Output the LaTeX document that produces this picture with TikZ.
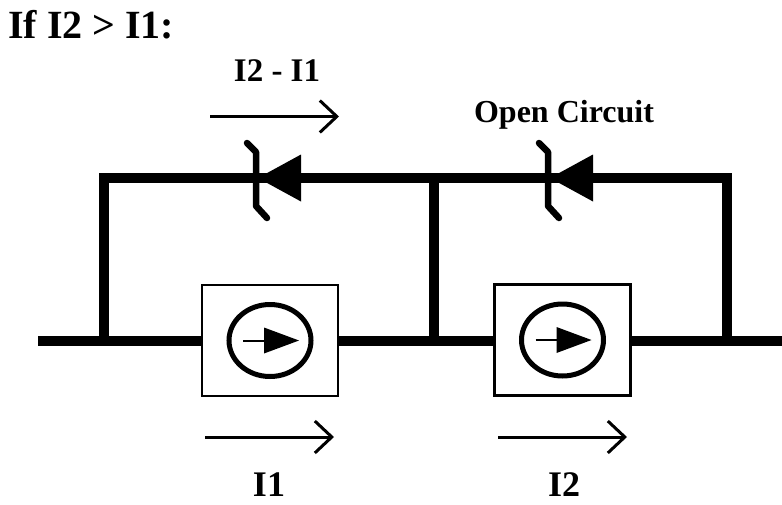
\documentclass[tikz,border=0pt]{standalone}
\usepackage{fontspec}
\setmainfont{Liberation Serif}
\usetikzlibrary{arrows.meta}
\tikzset{
  wire/.style={line width=10pt, line join=miter, line cap=butt},
  srcbox/.style={draw=black, fill=white, line width=2.5pt, minimum width=136pt, minimum height=111pt, inner sep=0pt},
  flow/.style={line width=3pt, -{Straight Barb[length=17pt,width=32pt,line width=3pt]}},
  lbl/.style={font=\bfseries, inner sep=0pt},
  pics/zener/.style={code={
    \fill (0,0) -- (43,-23.5) -- (43,23.5) -- cycle;
    \draw[line width=6.5pt, line cap=round, line join=round]
      (-11,-35) -- (-2,-26) -- (-2,28) -- (9,40);
  }},
  pics/isrc/.style={code={
    \draw[line width=5pt] (0,0) ellipse [x radius=41, y radius=36];
    \draw[line width=2pt] (-27,0) -- (-6,0);
    \fill (-6,-13) -- (29,0) -- (-6,13) -- cycle;
  }}
}
\begin{document}
\begin{tikzpicture}[x=1pt,y=-1pt]
\useasboundingbox (0,0) rectangle (782,504);

% junctions and wire ends
\coordinate (w0) at (38,341);
\coordinate (w1) at (782,341);
\coordinate (ja) at (104,341);
\coordinate (ta) at (104,178);
\coordinate (jb) at (434,341);
\coordinate (tb) at (434,178);
\coordinate (jc) at (727,341);
\coordinate (tc) at (727,178);

% wires
\draw[wire] (w0) -- (w1);
\draw[wire] (ja) -- (ta) -- (tb) -- (jb);
\draw[wire] (tb) -- (tc) -- (jc);

% zener diodes
\coordinate (d1) at (258,178);
\coordinate (d2) at (550,178);
\pic at (d1) {zener};
\pic at (d2) {zener};

% current sources
\node[srcbox] (s1) at (270,340.5) {};
\node[srcbox] (s2) at (562.5,340) {};
\pic at (s1.center) {isrc};
\pic at (s2.center) {isrc};

% current arrows
\coordinate (a0s) at (210,116.5);
\coordinate (a0e) at (339,116.5);
\coordinate (a1s) at (205,437);
\coordinate (a1e) at (334,437);
\coordinate (a2s) at (498,437);
\coordinate (a2e) at (627,437);
\draw[flow] (a0s) -- (a0e);
\draw[flow] (a1s) -- (a1e);
\draw[flow] (a2s) -- (a2e);

% labels
\node[lbl, anchor=base west, font=\bfseries\fontsize{40}{44}\selectfont] (title) at (8,38.3) {If I2 > I1:};
\node[lbl, anchor=base, font=\bfseries\fontsize{33}{36}\selectfont] (ldiff) at (277,81.7) {I2 - I1};
\node[lbl, anchor=base, font=\bfseries\fontsize{32}{36}\selectfont] (lopen) at (564,122) {Open Circuit};
\node[lbl, anchor=base, font=\bfseries\fontsize{36}{40}\selectfont] (li1) at (269,496) {I1};
\node[lbl, anchor=base, font=\bfseries\fontsize{36}{40}\selectfont] (li2) at (564,496) {I2};
\end{tikzpicture}
\end{document}
